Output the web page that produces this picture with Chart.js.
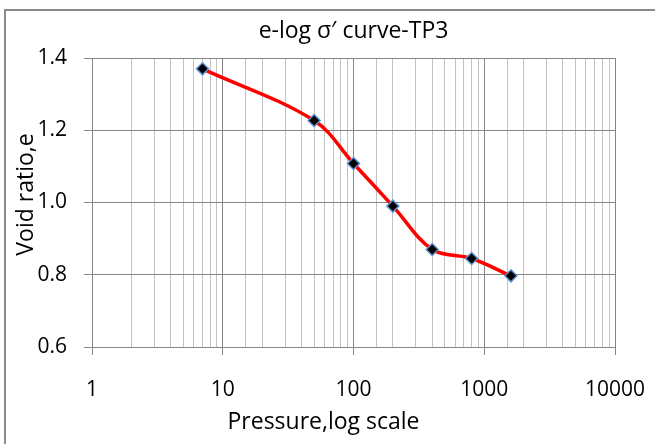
<!DOCTYPE html>
<html>
<head>
<meta charset="utf-8">
<script src="https://cdn.jsdelivr.net/npm/chart.js@4.4.1/dist/chart.umd.min.js"></script>
<style>
    body { margin: 0; background: #ffffff; }
    #box { width: 655px; height: 444px; }
</style>
</head>
<body>
<div id="box"><canvas id="chart-elog" width="655" height="444"></canvas></div>
<script>
//---------------------------------------------------------- DATA ----------------------------------------------------------
var pressure = [7, 50, 100, 200, 400, 800, 1600];
var voidRatio = [1.37, 1.227, 1.108, 0.99, 0.87, 0.845, 0.797];

var xMin = 1, xMax = 10000;
var yMin = 0.6, yMax = 1.4, yStep = 0.2;

var chartTitle = 'e-log σ′ curve-TP3';
var xTitle = 'Pressure,log scale';
var yTitle = 'Void ratio,e';

var FONT = "'Open Sans', sans-serif";
var MAJOR_GRID = '#868686';
var MINOR_GRID = '#c3c3c3';

function isDecade(v) {
    var l = Math.log10(v);
    return Math.abs(l - Math.round(l)) < 1e-9;
}

//---------------------------------------------------------- Border + axis titles ----------------------------------------------------------
var extraText = {
    id: 'extraText',
    afterDraw: function (chart) {
        var ctx = chart.ctx;
        var area = chart.chartArea;
        ctx.save();
        // outer frame (only top/left visible in the picture)
        ctx.strokeStyle = '#8c8c8c';
        ctx.lineWidth = 2;
        ctx.strokeRect(5, 10, chart.width + 20, chart.height + 20);

        ctx.fillStyle = '#000000';
        ctx.font = "23px " + FONT;
        ctx.textAlign = 'center';
        ctx.textBaseline = 'middle';
        // x title
        ctx.fillText(xTitle, chart.width / 2 - 4, 422);
        // y title, rotated, sits over the tick labels like the original
        ctx.translate(26, (area.top + area.bottom) / 2 - 8);
        ctx.rotate(-Math.PI / 2);
        ctx.fillText(yTitle, 0, 0);
        ctx.restore();
    }
};

//---------------------------------------------------------- Chart ----------------------------------------------------------
var points = pressure.map(function (p, i) { return { x: p, y: voidRatio[i] }; });

var ctx = document.getElementById('chart-elog').getContext('2d');
var chart_elog = new Chart(ctx, {
    type: 'scatter',
    data: {
        datasets: [{
            label: 'e',
            data: points,
            showLine: true,
            borderColor: '#ff0000',
            borderWidth: 3.5,
            tension: 0.35,
            pointStyle: 'rectRot',
            pointRadius: 6,
            pointHoverRadius: 6,
            pointBackgroundColor: '#000000',
            pointBorderColor: '#5b8fd0',
            pointBorderWidth: 1.5
        }]
    },
    plugins: [extraText],
    options: {
        responsive: false,
        animation: false,
        layout: {
            padding: { top: 0, left: 0, right: 40, bottom: 0 }
        },
        plugins: {
            legend: { display: false },
            tooltip: { enabled: false },
            title: {
                display: true,
                text: chartTitle,
                fullSize: false,
                color: '#000000',
                font: { family: FONT, size: 23, weight: 'normal' },
                padding: { top: 18, bottom: 12.4 }
            }
        },
        scales: {
            x: {
                type: 'logarithmic',
                min: xMin,
                max: xMax,
                afterFit: function (scale) {
                    scale.height = 97;
                    scale.paddingLeft = 0;
                    scale.paddingRight = 0;
                },
                border: { color: MAJOR_GRID, width: 1 },
                grid: {
                    color: function (c) { return isDecade(c.tick.value) ? MAJOR_GRID : MINOR_GRID; },
                    tickColor: function (c) { return isDecade(c.tick.value) ? MAJOR_GRID : 'rgba(0,0,0,0)'; },
                    tickLength: 8,
                    lineWidth: 1
                },
                ticks: {
                    autoSkip: false,
                    maxRotation: 0,
                    padding: 22,
                    color: '#000000',
                    font: { family: FONT, size: 21 },
                    callback: function (value) { return isDecade(value) ? String(Math.round(value)) : ''; }
                }
            },
            y: {
                min: yMin,
                max: yMax,
                afterFit: function (scale) { scale.width = 92; },
                border: { color: MAJOR_GRID, width: 1 },
                grid: {
                    color: MAJOR_GRID,
                    tickLength: 8,
                    lineWidth: 1
                },
                ticks: {
                    stepSize: yStep,
                    padding: 17,
                    color: '#000000',
                    font: { family: FONT, size: 21 },
                    callback: function (value) { return Number(value).toFixed(1); }
                }
            }
        }
    }
});
</script>
</body>
</html>
